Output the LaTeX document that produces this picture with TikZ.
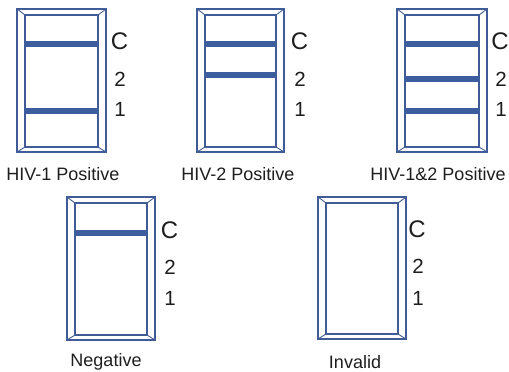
\documentclass[tikz,border=0pt]{standalone}
\usepackage{fontspec}
\setmainfont{Liberation Sans}
\definecolor{frame}{HTML}{3F5C99}
\definecolor{band}{HTML}{3D5E9E}
\definecolor{txt}{HTML}{1E1E1E}
\begin{document}
\begin{tikzpicture}[x=1pt,y=-1pt,
  outerframe/.style={draw=frame,line width=2pt},
  innerframe/.style={draw=frame,line width=1.5pt},
  bevel/.style={draw=frame,line width=0.9pt},
  bandline/.style={draw=band,line width=6pt},
  letterC/.style={text=txt,font=\fontsize{24}{24}\selectfont,inner sep=0pt,anchor=base},
  digit/.style={text=txt,font=\fontsize{20.5}{20.5}\selectfont,inner sep=0pt,anchor=base},
  caption/.style={text=txt,font=\fontsize{18}{18}\selectfont,inner sep=0pt,anchor=base}]
\useasboundingbox (0,0) rectangle (509,372);
% #1 left, #2 top, #3 right, #4 bottom, #5 name
\newcommand{\cassette}[5]{%
  \coordinate (#5oa) at (#1,#2); \coordinate (#5ob) at (#3,#4);
  \coordinate (#5ia) at (#1+8,#2+6); \coordinate (#5ib) at (#3-8,#4-5);
  \draw[outerframe] (#5oa) rectangle (#5ob);
  \draw[innerframe] (#5ia) rectangle (#5ib);
  \draw[bevel] (#5oa) -- (#5ia);
  \draw[bevel] (#3,#2) -- (#3-8,#2+6);
  \draw[bevel] (#1,#4) -- (#1+8,#4-5);
  \draw[bevel] (#5ob) -- (#5ib);
}
\newcommand{\stripband}[3]{\draw[bandline] (#1+8,#3) -- (#2-8,#3);}
% cassette 1
\cassette{17}{9}{106}{152}{a}
\stripband{17}{106}{44}
\stripband{17}{106}{111}
\node[letterC] (aC) at (119.5,49) {C};
\node[digit] (a2) at (120,86) {2};
\node[digit] (a1) at (120,116) {1};
\node[caption] (acap) at (63,180) {HIV-1 Positive};
% cassette 2
\cassette{197}{9}{284}{152}{b}
\stripband{197}{284}{44}
\stripband{197}{284}{75}
\node[letterC] (bC) at (299.5,49) {C};
\node[digit] (b2) at (300,86) {2};
\node[digit] (b1) at (300,116) {1};
\node[caption] (bcap) at (238,180) {HIV-2 Positive};
% cassette 3
\cassette{397}{9}{487}{152}{c}
\stripband{397}{487}{44}
\stripband{397}{487}{79}
\stripband{397}{487}{111}
\node[letterC] (cC) at (500,49) {C};
\node[digit] (c2) at (501,86) {2};
\node[digit] (c1) at (501,116) {1};
\node[caption] (ccap) at (438,180) {HIV-1\&2 Positive};
% cassette 4
\cassette{67}{197}{155}{340}{d}
\stripband{67}{155}{233}
\node[letterC] (dC) at (169.5,238) {C};
\node[digit] (d2) at (170,274) {2};
\node[digit] (d1) at (170,305) {1};
\node[caption] (dcap) at (106,366) {Negative};
% cassette 5
\cassette{318}{197}{406}{339}{e}
\node[letterC] (eC) at (417,237) {C};
\node[digit] (e2) at (418,273) {2};
\node[digit] (e1) at (418,305) {1};
\node[caption] (ecap) at (355,368) {Invalid};
\end{tikzpicture}
\end{document}
